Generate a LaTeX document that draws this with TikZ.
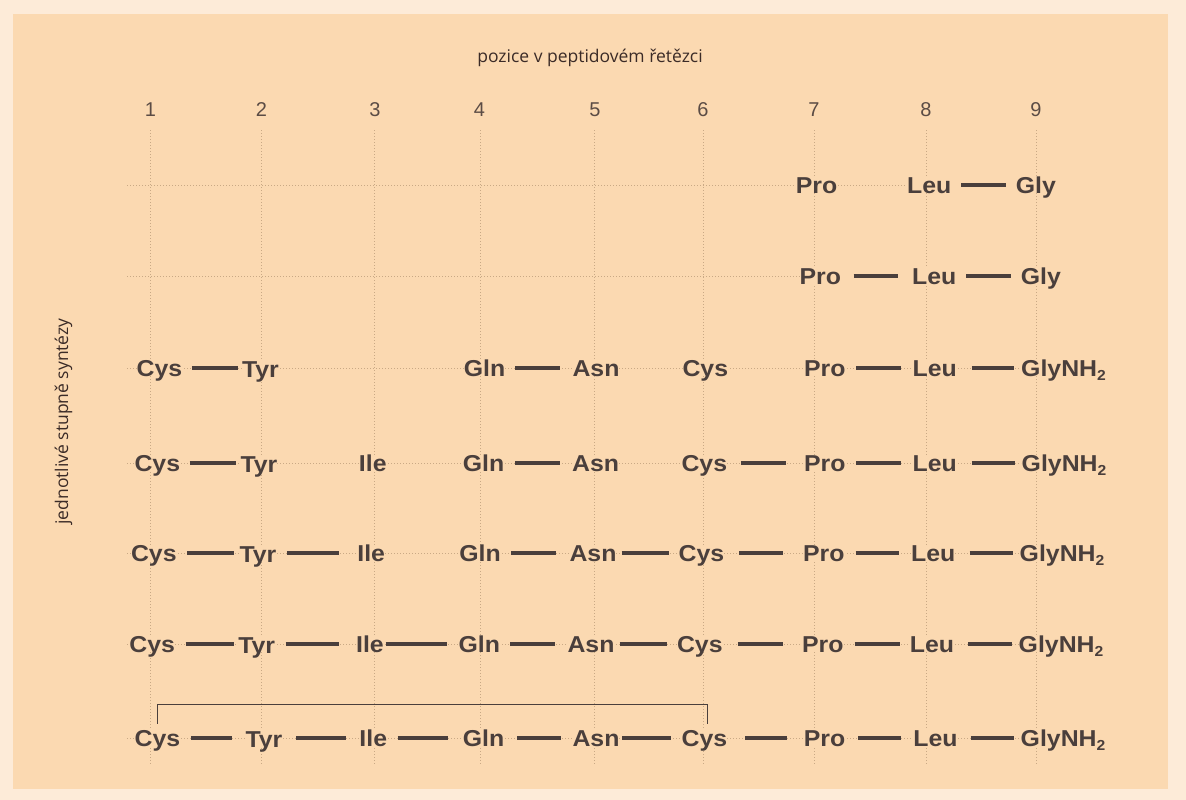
\documentclass[tikz,border=0pt]{standalone}
\usepackage{fontspec}
\setmainfont{Liberation Sans}
\newfontfamily\resfont{Liberation Sans}[FakeStretch=1.08]
\newfontfamily\labfont{Open Sans}
\definecolor{outerbg}{HTML}{FDEBD8}
\definecolor{innerbg}{HTML}{FBD9B1}
\definecolor{txt}{HTML}{4A3F3C}
\definecolor{numc}{HTML}{5B4C45}
\definecolor{titc}{HTML}{3B2B27}
\definecolor{gridc}{HTML}{C9A985}
\tikzset{
  res/.style={font=\resfont\fontsize{23}{23}\selectfont\bfseries, text=txt, inner sep=0pt,
    text height=16.5pt, text depth=0pt, fill=innerbg},
  glyres/.style={res, anchor=west},
  bond/.style={line width=3.4pt, draw=txt},
  gridl/.style={draw=gridc, line width=0.8pt, dash pattern=on 0.9pt off 2.1pt},
  num/.style={font=\fontsize{20}{20}\selectfont, text=numc, inner sep=0pt, anchor=base},
  lab/.style={font=\labfont\fontsize{17.5}{17.5}\selectfont, text=titc, inner sep=0pt, anchor=base},
  bracketline/.style={line width=1.6pt, draw=txt},
}
\newcommand\bd[4]{\draw[bond, shorten <=#3pt, shorten >=#4pt] (#1.east) -- (#1.east -| #2.west);}
\newcommand\glynh{GlyNH\raisebox{-4pt}{\fontsize{14.5}{14.5}\selectfont 2}}
\newcommand\tyr{\raisebox{-1.5pt}{Tyr}}
\begin{document}
\begin{tikzpicture}[x=1pt,y=-1pt]
\useasboundingbox (0,0) rectangle (1186,800);
\fill[outerbg] (0,0) rectangle (1186,800);
\fill[innerbg] (13,14) rectangle (1168,789);

% title and axis label
\node[lab] (title) at (590,63) {pozice v peptidovém řetězci};
\node[lab, rotate=90] (ylab) at (68,421.5) {jednotlivé stupně syntézy};

% column numbers
\node[num] (n1) at (150.5,116) {1};
\node[num] (n2) at (261.5,116) {2};
\node[num] (n3) at (375,116) {3};
\node[num] (n4) at (479.5,116) {4};
\node[num] (n5) at (595,116) {5};
\node[num] (n6) at (703,116) {6};
\node[num] (n7) at (814,116) {7};
\node[num] (n8) at (926,116) {8};
\node[num] (n9) at (1036,116) {9};

% grid
\foreach \x in {150,261,374,480,594,703,814,926,1036}
  \draw[gridl] (\x,130) -- (\x,765);
\draw[gridl] (127,185) -- (906,185);
\draw[gridl] (127,276) -- (800,276);
\foreach \y in {368,463,553,644,738}
  \draw[gridl] (127,\y) -- (1021,\y);

% row 1
\node[res] (r1g) at (816.5,185) {Pro};
\node[res] (r1h) at (929.2,185) {Leu};
\node[res] (r1i) at (1035.8,185) {Gly};
\bd{r1h}{r1i}{10}{10}

% row 2
\node[res] (r2g) at (820.3,276) {Pro};
\node[res] (r2h) at (934.2,276) {Leu};
\node[res] (r2i) at (1040.8,276) {Gly};
\bd{r2g}{r2h}{12.3}{14.4}
\bd{r2h}{r2i}{10}{10}

% row 3
\node[res] (r3a) at (159.4,368) {Cys};
\node[res] (r3b) at (260.5,368) {\tyr};
\node[res] (r3d) at (484.5,368) {Gln};
\node[res] (r3e) at (596,368) {Asn};
\node[res] (r3f) at (705.3,368) {Cys};
\node[res] (r3g) at (824.8,368) {Pro};
\node[res] (r3h) at (934.8,368) {Leu};
\node[glyres] (r3i) at (1021,368) {\glynh};
\bd{r3a}{r3b}{9.6}{4.3}
\bd{r3d}{r3e}{10}{12}
\bd{r3g}{r3h}{10.3}{12}
\bd{r3h}{r3i}{14.7}{6.7}

% row 4
\node[res] (r4a) at (157.3,463) {Cys};
\node[res] (r4b) at (259,463) {\tyr};
\node[res] (r4c) at (372.8,463) {Ile};
\node[res] (r4d) at (483.5,463) {Gln};
\node[res] (r4e) at (595.7,463) {Asn};
\node[res] (r4f) at (704.3,463) {Cys};
\node[res] (r4g) at (824.8,463) {Pro};
\node[res] (r4h) at (934.8,463) {Leu};
\node[glyres] (r4i) at (1021.5,463) {\glynh};
\bd{r4a}{r4b}{9.4}{4}
\bd{r4d}{r4e}{10.6}{12}
\bd{r4f}{r4g}{13.7}{18}
\bd{r4g}{r4h}{10.3}{12}
\bd{r4h}{r4i}{14.7}{7}

% row 5
\node[res] (r5a) at (153.8,553) {Cys};
\node[res] (r5b) at (258,553) {\tyr};
\node[res] (r5c) at (371.2,553) {Ile};
\node[res] (r5d) at (480,553) {Gln};
\node[res] (r5e) at (593,553) {Asn};
\node[res] (r5f) at (701.5,553) {Cys};
\node[res] (r5g) at (823.8,553) {Pro};
\node[res] (r5h) at (933.3,553) {Leu};
\node[glyres] (r5i) at (1019.5,553) {\glynh};
\bd{r5a}{r5b}{10.5}{5.2}
\bd{r5b}{r5c}{10.3}{18}
\bd{r5d}{r5e}{10.5}{13}
\bd{r5e}{r5f}{5}{10}
\bd{r5f}{r5g}{15}{19.7}
\bd{r5g}{r5h}{11}{11.7}
\bd{r5h}{r5i}{14}{7}

% row 6
\node[res] (r6a) at (152.2,644) {Cys};
\node[res] (r6b) at (256.7,644) {\tyr};
\node[res] (r6c) at (369.9,644) {Ile};
\node[res] (r6d) at (479.3,644) {Gln};
\node[res] (r6e) at (591,644) {Asn};
\node[res] (r6f) at (699.8,644) {Cys};
\node[res] (r6g) at (822.8,644) {Pro};
\node[res] (r6h) at (932,644) {Leu};
\node[glyres] (r6i) at (1018.5,644) {\glynh};
\bd{r6a}{r6b}{10.4}{4.5}
\bd{r6b}{r6c}{10.4}{17}
\bd{r6c}{r6d}{1.7}{11.3}
\bd{r6d}{r6e}{10.2}{12}
\bd{r6e}{r6f}{5}{10}
\bd{r6f}{r6g}{15}{19}
\bd{r6g}{r6h}{11}{10}
\bd{r6h}{r6i}{14}{6.3}

% row 7
\node[res] (r7a) at (157.5,738) {Cys};
\node[res] (r7b) at (264,738) {\tyr};
\node[res] (r7c) at (373.3,738) {Ile};
\node[res] (r7d) at (483.5,738) {Gln};
\node[res] (r7e) at (596,738) {Asn};
\node[res] (r7f) at (704.5,738) {Cys};
\node[res] (r7g) at (824.5,738) {Pro};
\node[res] (r7h) at (935.5,738) {Leu};
\node[glyres] (r7i) at (1020.5,738) {\glynh};
\bd{r7a}{r7b}{10.7}{13.3}
\bd{r7b}{r7c}{13.7}{13.3}
\bd{r7c}{r7d}{10.3}{14.7}
\bd{r7d}{r7e}{13}{11}
\bd{r7e}{r7f}{2.5}{11}
\bd{r7f}{r7g}{18}{17}
\bd{r7g}{r7h}{13}{12}
\bd{r7h}{r7i}{13}{7}

% disulfide bracket
\draw[bracketline] ([yshift=6pt]r7a.north) -- ++(0,-19) -| ([xshift=3pt,yshift=6pt]r7f.north);
\end{tikzpicture}
\end{document}
